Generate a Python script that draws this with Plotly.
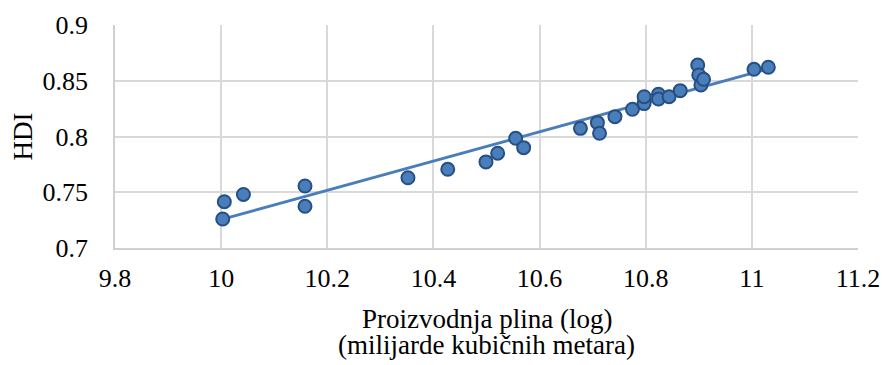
import numpy as np
import plotly.graph_objects as go

# Data: log gas production vs HDI
gas_log = [10.003, 10.006, 10.042, 10.158, 10.158, 10.352, 10.427, 10.499, 10.521,
           10.555, 10.570, 10.677, 10.709, 10.713, 10.742, 10.775, 10.797, 10.797,
           10.824, 10.824, 10.844, 10.865, 10.898, 10.900, 10.904, 10.909, 11.004, 11.031]
hdi = [0.726, 0.7415, 0.748, 0.7556, 0.7374, 0.763, 0.7706, 0.7772, 0.785,
       0.7984, 0.790, 0.8073, 0.8124, 0.8029, 0.8178, 0.8244, 0.8295, 0.8357,
       0.8379, 0.8336, 0.8357, 0.8411, 0.8641, 0.8552, 0.8462, 0.8513, 0.8603, 0.8621]

x_ticks = [9.8, 10, 10.2, 10.4, 10.6, 10.8, 11, 11.2]
x_tick_labels = ["9.8", "10", "10.2", "10.4", "10.6", "10.8", "11", "11.2"]
y_ticks = [0.7, 0.75, 0.8, 0.85, 0.9]
y_tick_labels = ["0.7", "0.75", "0.8", "0.85", "0.9"]

x_title_lines = ["Proizvodnja plina (log)", "(milijarde kubičnih metara)"]
y_title = "HDI"

# Linear trendline (least squares)
slope, intercept = np.polyfit(gas_log, hdi, 1)
tx = [min(gas_log), max(gas_log)]
ty = [slope * v + intercept for v in tx]

FONT = "Liberation Serif, Times New Roman, serif"
FS = 26
FT = 27

fig = go.Figure()
fig.add_trace(go.Scatter(x=tx, y=ty, mode="lines",
                         line=dict(color="#4a7ebb", width=3), hoverinfo="skip",
                         showlegend=False))
fig.add_trace(go.Scatter(x=gas_log, y=hdi, mode="markers",
                         marker=dict(size=13, color="#4a7ebb",
                                     line=dict(color="#264f84", width=2)),
                         showlegend=False))

fig.update_layout(
    width=882, height=365,
    margin=dict(l=115, r=24, t=25, b=117),
    paper_bgcolor="white", plot_bgcolor="white",
    font=dict(family=FONT, size=FS, color="black"),
    xaxis=dict(range=[9.8, 11.2], tickvals=x_ticks, ticktext=x_tick_labels,
               showgrid=True, gridcolor="#d9d9d9", gridwidth=1.5, automargin=False,
               zeroline=False, showline=True, linecolor="#d0d0d0", linewidth=1.5,
               ticks="outside", ticklen=6, tickcolor="rgba(0,0,0,0)",
               tickfont=dict(family=FONT, size=FS)),
    yaxis=dict(range=[0.7, 0.9], tickvals=y_ticks, ticktext=y_tick_labels,
               showgrid=True, gridcolor="#d9d9d9", gridwidth=1.5, automargin=False,
               zeroline=False, showline=True, linecolor="#d0d0d0", linewidth=1.5,
               ticks="outside", ticklen=20, tickcolor="rgba(0,0,0,0)",
               tickfont=dict(family=FONT, size=FS)),
)

fig.add_annotation(text=y_title, xref="paper", yref="paper", x=0, xshift=-93,
                   xanchor="center", yanchor="middle",
                   y=0.5, textangle=-90, showarrow=False,
                   font=dict(family=FONT, size=FT))
fig.add_annotation(text=x_title_lines[0], xref="paper", yref="paper",
                   x=0.5, y=0, yshift=-71, yanchor="middle", showarrow=False,
                   font=dict(family=FONT, size=FT))
fig.add_annotation(text=x_title_lines[1], xref="paper", yref="paper",
                   x=0.5, y=0, yshift=-97, yanchor="middle", showarrow=False,
                   font=dict(family=FONT, size=FT))

fig.write_html("out.html", config={"displayModeBar": False},
               post_script="document.body.style.margin='0';document.body.style.overflow='hidden';")
